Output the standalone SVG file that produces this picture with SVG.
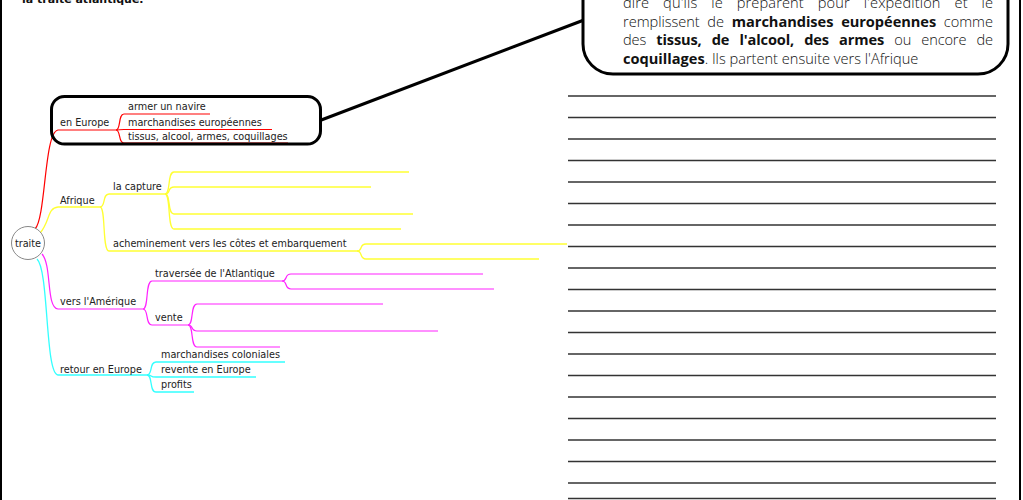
<svg xmlns="http://www.w3.org/2000/svg" width="1023" height="500" viewBox="0 0 1023 500">
<style>
.t{font-family:"DejaVu Sans",sans-serif;font-size:9.7px;fill:#222}
.c{font-family:"Open Sans","Liberation Sans",sans-serif;font-size:14.6px;font-weight:300;fill:#111}
.b{font-weight:700}
.red{fill:none;stroke:#ff0000;stroke-width:1.2}
.yel{fill:none;stroke:#ffff33;stroke-width:1.3}
.mag{fill:none;stroke:#ff22ff;stroke-width:1.2}
.cya{fill:none;stroke:#33ffff;stroke-width:1.3}
.wl{stroke:#333;stroke-width:1.5}
</style>
<rect x="0" y="0" width="1023" height="500" fill="#fff"/>
<g id="page">
<line x1="1" y1="0" x2="1" y2="500" stroke="#000" stroke-width="2"/>
<line x1="1020" y1="0" x2="1020" y2="500" stroke="#000" stroke-width="2"/>
<text x="22" y="2.5" style="font-family:'DejaVu Sans',sans-serif;font-size:11px;font-weight:700;fill:#111">la traite atlantique.</text>
</g>
<g id="writing-lines">
<line class="wl" x1="568" y1="96" x2="996" y2="96"/>
<line class="wl" x1="568" y1="117.5" x2="996" y2="117.5"/>
<line class="wl" x1="568" y1="139" x2="996" y2="139"/>
<line class="wl" x1="568" y1="160.5" x2="996" y2="160.5"/>
<line class="wl" x1="568" y1="182" x2="996" y2="182"/>
<line class="wl" x1="568" y1="203.5" x2="996" y2="203.5"/>
<line class="wl" x1="568" y1="225" x2="996" y2="225"/>
<line class="wl" x1="568" y1="246.5" x2="996" y2="246.5"/>
<line class="wl" x1="568" y1="268" x2="996" y2="268"/>
<line class="wl" x1="568" y1="289.5" x2="996" y2="289.5"/>
<line class="wl" x1="568" y1="311" x2="996" y2="311"/>
<line class="wl" x1="568" y1="332.5" x2="996" y2="332.5"/>
<line class="wl" x1="568" y1="354" x2="996" y2="354"/>
<line class="wl" x1="568" y1="375.5" x2="996" y2="375.5"/>
<line class="wl" x1="568" y1="397" x2="996" y2="397"/>
<line class="wl" x1="568" y1="418.5" x2="996" y2="418.5"/>
<line class="wl" x1="568" y1="440" x2="996" y2="440"/>
<line class="wl" x1="568" y1="461.5" x2="996" y2="461.5"/>
<line class="wl" x1="568" y1="483" x2="996" y2="483"/>
<line class="wl" x1="568" y1="498.5" x2="996" y2="498.5"/>
</g>
<g id="connectors">
<path class="red" d="M35,229 C46,218 44,132 58,130 H116"/>
<path class="yel" d="M40,233 C50,222 47,208 58,207 H100"/>
<path class="mag" d="M42,254 C52,265 46,308 58,309 H143"/>
<path class="cya" d="M37,259 C49,270 45,374 58,375 H147"/>
<path class="red" d="M116,130 C121,130 118,114 124,114 H210"/>
<path class="red" d="M116,130 C120,130 119,129.5 124,129.5 H272"/>
<path class="red" d="M116,130 C121,130 118,143 124,143 H288"/>
<path class="yel" d="M100,207 C106,207 102,194 109,194 H165"/>
<path class="yel" d="M100,207 C106,207 102,251 109,251 H357"/>
<path class="yel" d="M165,194 C171,194 167,172 174,172 H409"/>
<path class="yel" d="M165,194 C171,194 167,187 174,187 H371"/>
<path class="yel" d="M165,194 C171,194 167,214 174,214 H413"/>
<path class="yel" d="M165,194 C171,194 167,229 174,229 H401"/>
<path class="yel" d="M357,251 C363,251 359,244 366,244 H567"/>
<path class="yel" d="M357,251 C363,251 359,259 366,259 H539"/>
<path class="mag" d="M143,309 C149,309 145,281 152,281 H282"/>
<path class="mag" d="M143,309 C149,309 145,325 152,325 H188"/>
<path class="mag" d="M282,281 C288,281 284,274 291,274 H483"/>
<path class="mag" d="M282,281 C288,281 284,289 291,289 H494"/>
<path class="mag" d="M188,325 C194,325 190,304 197,304 H383"/>
<path class="mag" d="M188,325 C194,325 190,331 197,331 H438"/>
<path class="mag" d="M188,325 C194,325 190,347 197,347 H280"/>
<path class="cya" d="M147,375 C153,375 149,362 156,362 H285"/>
<path class="cya" d="M147,375 C153,375 149,377 156,377 H256"/>
<path class="cya" d="M147,375 C153,375 149,392 156,392 H194"/>
<line x1="320" y1="120.5" x2="584" y2="20" stroke="#000" stroke-width="3"/>
</g>
<g id="root">
<circle cx="28" cy="243" r="16.5" fill="#fff" stroke="#888" stroke-width="1"/>
<text class="t" x="28" y="246.5" text-anchor="middle">traite</text>
</g>
<g id="n-europe">
<rect x="51.5" y="96.5" width="269" height="47.5" rx="13" fill="none" stroke="#000" stroke-width="3"/>
<text class="t" x="60" y="125.5">en Europe</text>
<text class="t" x="128" y="110">armer un navire</text>
<text class="t" x="128" y="125.5">marchandises européennes</text>
<text class="t" x="128" y="140">tissus, alcool, armes, coquillages</text>
</g>
<g id="n-afrique">
<text class="t" x="60" y="203.5">Afrique</text>
<text class="t" x="113" y="189.5">la capture</text>
<text class="t" x="113" y="246.5">acheminement vers les côtes et embarquement</text>
</g>
<g id="n-amerique">
<text class="t" x="60" y="305">vers l'Amérique</text>
<text class="t" x="155" y="277">traversée de l'Atlantique</text>
<text class="t" x="155" y="321">vente</text>
</g>
<g id="n-retour">
<text class="t" x="60" y="372.5">retour en Europe</text>
<text class="t" x="161" y="357.5">marchandises coloniales</text>
<text class="t" x="161" y="372.5">revente en Europe</text>
<text class="t" x="161" y="387.5">profits</text>
</g>
<g id="callout">
<rect x="583" y="-40" width="425" height="114" rx="30" fill="#fff" stroke="#000" stroke-width="3"/>
<text class="c" x="623" y="7.5" word-spacing="10" textLength="370" lengthAdjust="spacing">dire qu'ils le préparent pour l'expédition et le</text>
<text class="c" x="623" y="26.5" word-spacing="4" textLength="370" lengthAdjust="spacing">remplissent de <tspan class="b">marchandises européennes</tspan> comme</text>
<text class="c" x="623" y="45" word-spacing="6.5" textLength="370" lengthAdjust="spacing">des <tspan class="b">tissus, de l'alcool, des armes</tspan> ou encore de</text>
<text class="c" x="623" y="63.5"><tspan class="b">coquillages</tspan>. Ils partent ensuite vers l'Afrique</text>
</g>
</svg>
